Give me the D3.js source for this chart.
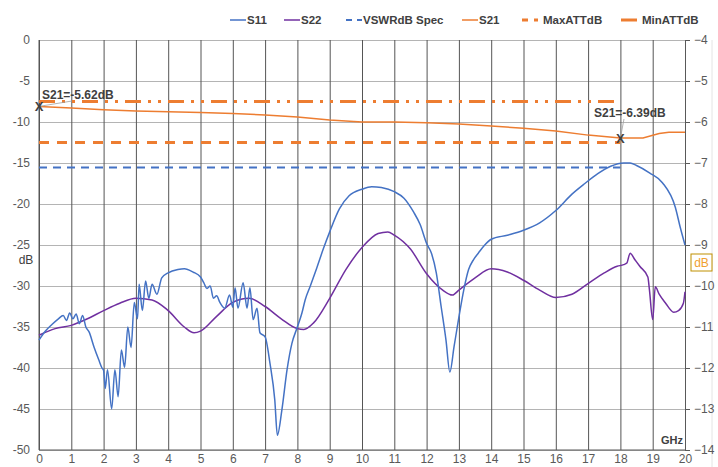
<!DOCTYPE html>
<html>
<head>
<meta charset="utf-8">
<script src="https://cdn.jsdelivr.net/npm/d3@7/dist/d3.min.js"></script>
<style>
body{margin:0;background:#fff;}
svg{font-family:"Liberation Sans",Arial,sans-serif;}
.tick text{fill:#595959;font-size:12px;}
</style>
</head>
<body>
<script>
// data: [GHz, dB]
var s11 = [[0,-36.6],[0.2,-35.5],[0.4,-34.7],[0.6,-34.0],[0.75,-33.6],[0.85,-34.2],[0.95,-33.3],[1.05,-34.0],
	[1.15,-33.4],[1.25,-34.6],[1.35,-33.6],[1.45,-35.0],[1.55,-35.6],[1.7,-37.4],[1.85,-39.0],[1.95,-40.0],
	[2.0,-40.3],[2.05,-42.5],[2.12,-40.2],[2.25,-45.0],[2.35,-40.2],[2.45,-43.5],[2.55,-37.8],[2.65,-39.9],
	[2.75,-35.0],[2.85,-37.5],[2.95,-32.0],[3.05,-34.0],[3.1,-29.8],[3.2,-33.0],[3.3,-29.4],[3.4,-31.5],
	[3.5,-29.8],[3.65,-31.0],[3.8,-29.0],[4.0,-28.4],[4.3,-28.0],[4.5,-27.9],[4.77,-28.3],[5.0,-28.9],
	[5.1,-29.6],[5.2,-30.3],[5.3,-30.0],[5.4,-31.5],[5.5,-31.2],[5.6,-32.0],[5.75,-32.7],[5.9,-31.1],
	[6.0,-32.6],[6.07,-30.2],[6.16,-32.7],[6.32,-29.6],[6.44,-32.7],[6.53,-30.2],[6.63,-34.1],[6.75,-32.7],
	[6.84,-35.7],[7.0,-36.2],[7.15,-39.4],[7.3,-43.9],[7.38,-48.2],[7.52,-45.1],[7.68,-40.2],[7.83,-37.0],
	[7.99,-35.1],[8.14,-33.3],[8.24,-31.7],[8.4,-30.0],[8.6,-27.8],[8.8,-25.5],[9.0,-23.4],[9.3,-20.6],
	[9.6,-19.0],[10.0,-18.2],[10.3,-17.9],[10.6,-18.0],[11.0,-18.5],[11.3,-19.3],[11.6,-21.0],[11.8,-22.5],
	[12.0,-24.8],[12.15,-26.0],[12.3,-28.4],[12.45,-32.5],[12.6,-36.6],[12.72,-40.5],[12.85,-37.4],
	[13.0,-33.8],[13.15,-30.5],[13.3,-28.0],[13.45,-26.8],[13.6,-26.0],[13.8,-25.0],[14.0,-24.3],
	[14.5,-23.8],[15.0,-23.2],[15.5,-22.3],[16.0,-20.8],[16.5,-18.8],[16.9,-17.5],[17.3,-16.3],[17.7,-15.4],
	[18.1,-15.0],[18.3,-15.0],[18.5,-15.3],[18.9,-16.2],[19.3,-17.4],[19.7,-20.4],[19.85,-22.8],[20.0,-25.0]
];

var s22 = [[0,-36.0],[0.5,-35.2],[1,-34.8],[1.5,-34.0],[2,-33.0],[2.5,-32.1],[3,-31.5],[3.5,-31.7],[4,-33.0],
	[4.5,-35.0],[4.8,-35.7],[5,-35.5],[5.5,-33.7],[6,-32.0],[6.5,-31.5],[7,-32.5],[7.5,-34.0],[8,-35.2],
	[8.2,-35.3],[8.5,-34.5],[9,-31.5],[9.5,-28.0],[10,-25.3],[10.5,-23.6],[10.8,-23.4],[11,-23.8],[11.5,-25.5],
	[12,-28.5],[12.5,-30.5],[12.8,-31.1],[13,-30.5],[13.5,-29.0],[14,-27.9],[14.5,-28.3],[15,-29.3],
	[15.5,-30.5],[16,-31.4],[16.5,-31.0],[17,-29.7],[17.5,-28.4],[17.9,-27.6],[18.1,-27.4],[18.2,-27.2],
	[18.3,-26.0],[18.45,-26.8],[18.6,-27.6],[18.85,-28.9],[18.9,-30.5],[19.0,-34.1],[19.08,-30.1],
	[19.2,-31.0],[19.4,-32.1],[19.65,-33.2],[19.8,-33.0],[19.95,-32.1],[20.0,-30.7]
];

// S21 on the right axis
var s21 = [[0,-5.62],[1,-5.66],[2,-5.70],[3,-5.73],[4,-5.75],[5,-5.77],[6,-5.79],[7,-5.83],[8,-5.88],
	[9,-5.95],[10,-6.0],[11,-6.0],[12,-6.02],[13,-6.05],[14,-6.1],[15,-6.15],[16,-6.22],[17,-6.32],
	[18,-6.39],[18.7,-6.39],[19.2,-6.28],[19.5,-6.25],[20,-6.25]];

var vswrSpec = [[0,-15.56],[18,-15.56]];
var maxAtt = [[0,-6.5],[18,-6.5]];
var minAtt = [[0,-5.5],[18,-5.5]];

var xTicks = d3.range(0,21,1);
var leftTicks = d3.range(-50,1,5);
var rightTicks = d3.range(-14,-3,1);

var width = 718, height = 467;
var x = d3.scaleLinear().domain([0,20]).range([39,685]);
var yL = d3.scaleLinear().domain([-50,0]).range([450,40]);
var yR = d3.scaleLinear().domain([-14,-4]).range([450,40]);

var svg = d3.select("body").append("svg")
	.attr("width", width)
	.attr("height", height);

svg.append("line").attr("x1",712).attr("x2",712).attr("y1",40).attr("y2",height)
	.attr("stroke","#e4e4e4");

// horizontal grid
var gH = svg.append("g").attr("transform","translate(39,0)")
	.call(d3.axisLeft(yL).tickValues(leftTicks).tickSize(-646).tickPadding(9).tickFormat(d3.format("d")));
gH.select(".domain").remove();
gH.selectAll(".tick line").attr("stroke","#b4b4b4");
gH.selectAll(".tick text").text(function(d){return d;});

// vertical grid + bottom labels
var gV = svg.append("g").attr("transform","translate(0,450)")
	.call(d3.axisBottom(x).tickValues(xTicks).tickSize(-410).tickPadding(4));
gV.select(".domain").remove();
gV.selectAll(".tick line").attr("stroke","#555");

// axis lines
svg.append("line").attr("x1",39).attr("x2",39).attr("y1",40).attr("y2",450).attr("stroke","#595959");
svg.append("line").attr("x1",39).attr("x2",685).attr("y1",450).attr("y2",450).attr("stroke","#595959");

var gR = svg.append("g").attr("transform","translate(685,0)")
	.call(d3.axisRight(yR).tickValues(rightTicks).tickSize(5).tickPadding(4));
gR.select(".domain").attr("stroke","#595959");
gR.selectAll(".tick line").attr("stroke","#595959");

var lineL = d3.line().x(function(d){return x(d[0]);}).y(function(d){return yL(d[1]);});
var lineR = d3.line().x(function(d){return x(d[0]);}).y(function(d){return yR(d[1]);});

svg.append("path").datum(vswrSpec).attr("d",lineL).attr("fill","none")
	.attr("stroke","#4472c4").attr("stroke-width",2).attr("stroke-dasharray","8,6");
svg.append("path").datum(maxAtt).attr("d",lineR).attr("fill","none")
	.attr("stroke","#ed7d31").attr("stroke-width",3).attr("stroke-dasharray","10,8");
svg.append("path").datum(minAtt).attr("d",lineR).attr("fill","none")
	.attr("stroke","#ed7d31").attr("stroke-width",3).attr("stroke-dasharray","16,7,3,7,3,7");

svg.append("path").datum(s22).attr("d",lineL.curve(d3.curveMonotoneX)).attr("fill","none")
	.attr("stroke","#7030a0").attr("stroke-width",1.5);
svg.append("path").datum(s11).attr("d",lineL).attr("fill","none")
	.attr("stroke","#4472c4").attr("stroke-width",1.5);
svg.append("path").datum(s21).attr("d",lineR).attr("fill","none")
	.attr("stroke","#ed7d31").attr("stroke-width",1.5);

// markers on S21
var marks = [s21[0], s21[18]];
var labelPos = [[42,99],[594,117]];
marks.forEach(function(m,i){
	svg.append("line").attr("x1",x(m[0])).attr("y1",yR(m[1]))
		.attr("x2",labelPos[i][0]+30).attr("y2",labelPos[i][1]+2)
		.attr("stroke","#a0a0a0").attr("stroke-width",0.8);
	svg.append("text").attr("x",x(m[0])).attr("y",yR(m[1])+5)
		.attr("text-anchor","middle").attr("font-size",13).attr("font-weight","bold")
		.attr("fill","#404040").text("X");
	svg.append("text").attr("x",labelPos[i][0]).attr("y",labelPos[i][1])
		.attr("font-size",12).attr("font-weight","bold").attr("fill","#404040")
		.text("S21=" + m[1].toFixed(2) + "dB");
});

svg.append("text").attr("x",26).attr("y",264).attr("text-anchor","middle")
	.attr("font-size",12).attr("fill","#404040").text("dB");
svg.append("text").attr("x",672).attr("y",444).attr("text-anchor","middle")
	.attr("font-size",11).attr("font-weight","bold").attr("fill","#404040").text("GHz");
svg.append("rect").attr("x",691).attr("y",254).attr("width",21).attr("height",17)
	.attr("fill","#fff").attr("stroke","#bf9000").attr("stroke-width",1);
svg.append("text").attr("x",701.5).attr("y",267).attr("text-anchor","middle")
	.attr("font-size",12).attr("fill","#f0a030").text("dB");

// legend
var legend = [
	{name:"S11", color:"#4472c4", w:1.5, dash:null, x:230},
	{name:"S22", color:"#7030a0", w:1.5, dash:null, x:284},
	{name:"VSWRdB Spec", color:"#4472c4", w:2, dash:"6,5", x:346},
	{name:"S21", color:"#ed7d31", w:1.5, dash:null, x:462},
	{name:"MaxATTdB", color:"#ed7d31", w:3, dash:"6,6", x:522},
	{name:"MinATTdB", color:"#ed7d31", w:3, dash:null, x:621}
];
var lg = svg.selectAll(".leg").data(legend).enter().append("g").attr("class","leg")
	.attr("transform",function(d){return "translate("+d.x+",20)";});
lg.append("line").attr("x1",0).attr("x2",16).attr("y1",0).attr("y2",0)
	.attr("stroke",function(d){return d.color;})
	.attr("stroke-width",function(d){return d.w;})
	.attr("stroke-dasharray",function(d){return d.dash;});
lg.append("text").attr("x",function(d){return d.w>2 ? 21 : 17;}).attr("y",4)
	.attr("font-size",11.5).attr("font-weight","bold").attr("fill","#404040")
	.text(function(d){return d.name;});
</script>
</body>
</html>
